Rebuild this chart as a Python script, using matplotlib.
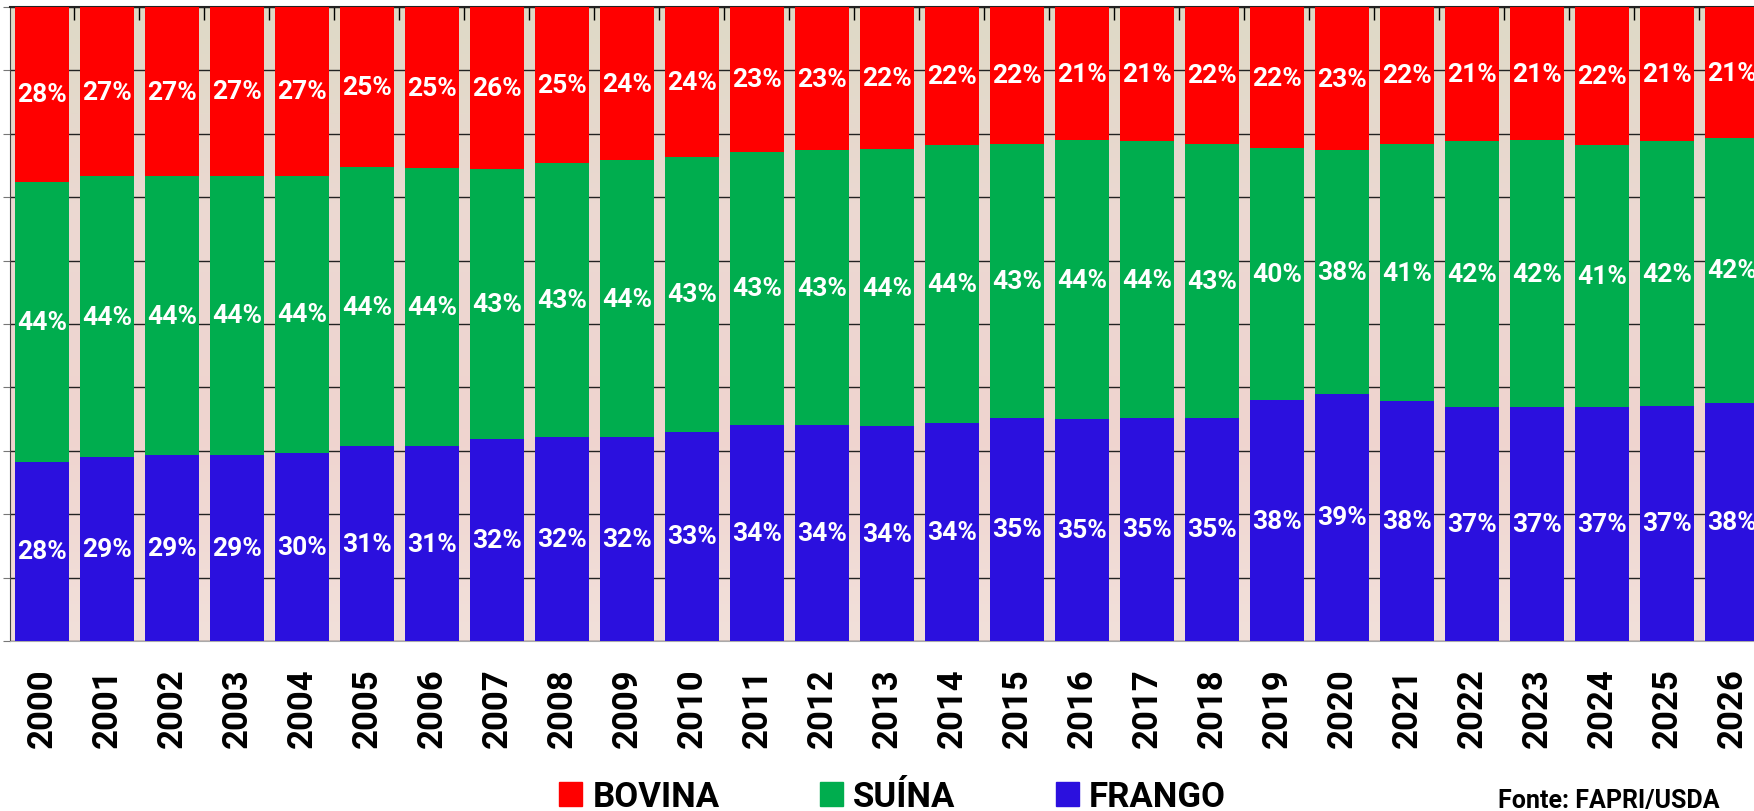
import matplotlib
matplotlib.use('Agg')
import matplotlib.pyplot as plt
import numpy as np
from matplotlib.colors import LinearSegmentedColormap
from matplotlib.patches import Patch

plt.rcParams['font.family'] = ['Roboto', 'DejaVu Sans']

anos = [str(a) for a in range(2000, 2027)]
frango = [28.3, 29.0, 29.3, 29.4, 29.6, 30.7, 30.7, 31.8, 32.2, 32.2, 33.0, 34.1, 34.1, 33.9,
          34.4, 35.2, 35.0, 35.2, 35.2, 38.0, 39.0, 37.8, 36.9, 36.9, 36.9, 37.1, 37.6]
suina = [44.1, 44.3, 44.0, 44.0, 43.8, 44.0, 43.9, 42.6, 43.2, 43.6, 43.4, 43.1, 43.3, 43.7,
         43.9, 43.2, 44.0, 43.6, 43.2, 39.7, 38.4, 40.6, 41.9, 42.1, 41.4, 41.7, 41.7]
bovina = [27.6, 26.7, 26.7, 26.6, 26.6, 25.3, 25.4, 25.6, 24.6, 24.2, 23.6, 22.8, 22.6, 22.4,
          21.7, 21.6, 21.0, 21.2, 21.6, 22.3, 22.6, 21.6, 21.2, 21.0, 21.7, 21.2, 20.7]

cor_frango = '#2b10de'
cor_suina = '#00ad4e'
cor_bovina = '#ff0000'

fig = plt.figure(figsize=(17.54, 8.12), dpi=100)
ax = fig.add_axes([10/1754, 1 - 642/812, 1744/1754, 634/812])

# fundo (foto desbotada no original)
fundo = LinearSegmentedColormap.from_list('fundo', ['#f2e0da', '#efd4cf', '#ecd8d2', '#dedac6'])
grad = np.linspace(0, 1, 256).reshape(-1, 1)
ax.imshow(grad, extent=[0, 1, 0, 1], transform=ax.transAxes, aspect='auto',
          cmap=fundo, origin='lower', zorder=0)

x = np.arange(len(anos))
f = np.array(frango)
s = np.array(suina)
b = np.array(bovina)
w = 0.83
ax.bar(x, f, w, color=cor_frango, zorder=3)
ax.bar(x, s, w, bottom=f, color=cor_suina, zorder=3)
ax.bar(x, b, w, bottom=f + s, color=cor_bovina, zorder=3)

for i in range(len(anos)):
    for val, base in ((f[i], 0), (s[i], f[i]), (b[i], f[i] + s[i])):
        ax.text(x[i], base + val / 2, f'{val:.0f}%', ha='center', va='center',
                color='white', fontsize=19, fontweight='bold', zorder=4)

ax.set_xlim(-0.49, 26.34)
ax.set_ylim(0, 100)
ax.set_yticks(np.arange(0, 101, 10))
ax.set_yticklabels([])
ax.grid(axis='y', color='#222222', lw=1, zorder=1)
ax.tick_params(axis='y', length=5, color='#777777')

ax.set_xticks(x)
ax.set_xticklabels(anos, rotation=90, fontsize=25, fontweight='bold')
ax.tick_params(axis='x', which='major', length=0, pad=19)
ax.set_xticks(np.arange(0.5, 26, 1), minor=True)
ax.tick_params(axis='x', which='minor', bottom=False, top=True, direction='in',
               length=9, width=1, color='black')

ax.spines['right'].set_visible(False)
ax.spines['top'].set_color('#222222')
ax.spines['top'].set_linewidth(1.5)
ax.spines['left'].set_color('#444444')
ax.spines['bottom'].set_color('#aaaaaa')

handles = [Patch(color=cor_bovina, label='BOVINA'),
           Patch(color=cor_suina, label='SUÍNA'),
           Patch(color=cor_frango, label='FRANGO')]
fig.legend(handles=handles, loc='center', bbox_to_anchor=(0.509, 0.018), ncol=3,
           frameon=False, prop={'size': 25, 'weight': 'bold'},
           handlelength=0.65, handleheight=0.7, handletextpad=0.3,
           columnspacing=2.9, borderpad=0, borderaxespad=0)

fig.text(1720/1754, 1 - 801/812, 'Fonte: FAPRI/USDA', ha='right', va='center',
         fontsize=18, fontweight='bold')

plt.savefig('out.png', dpi=100)
